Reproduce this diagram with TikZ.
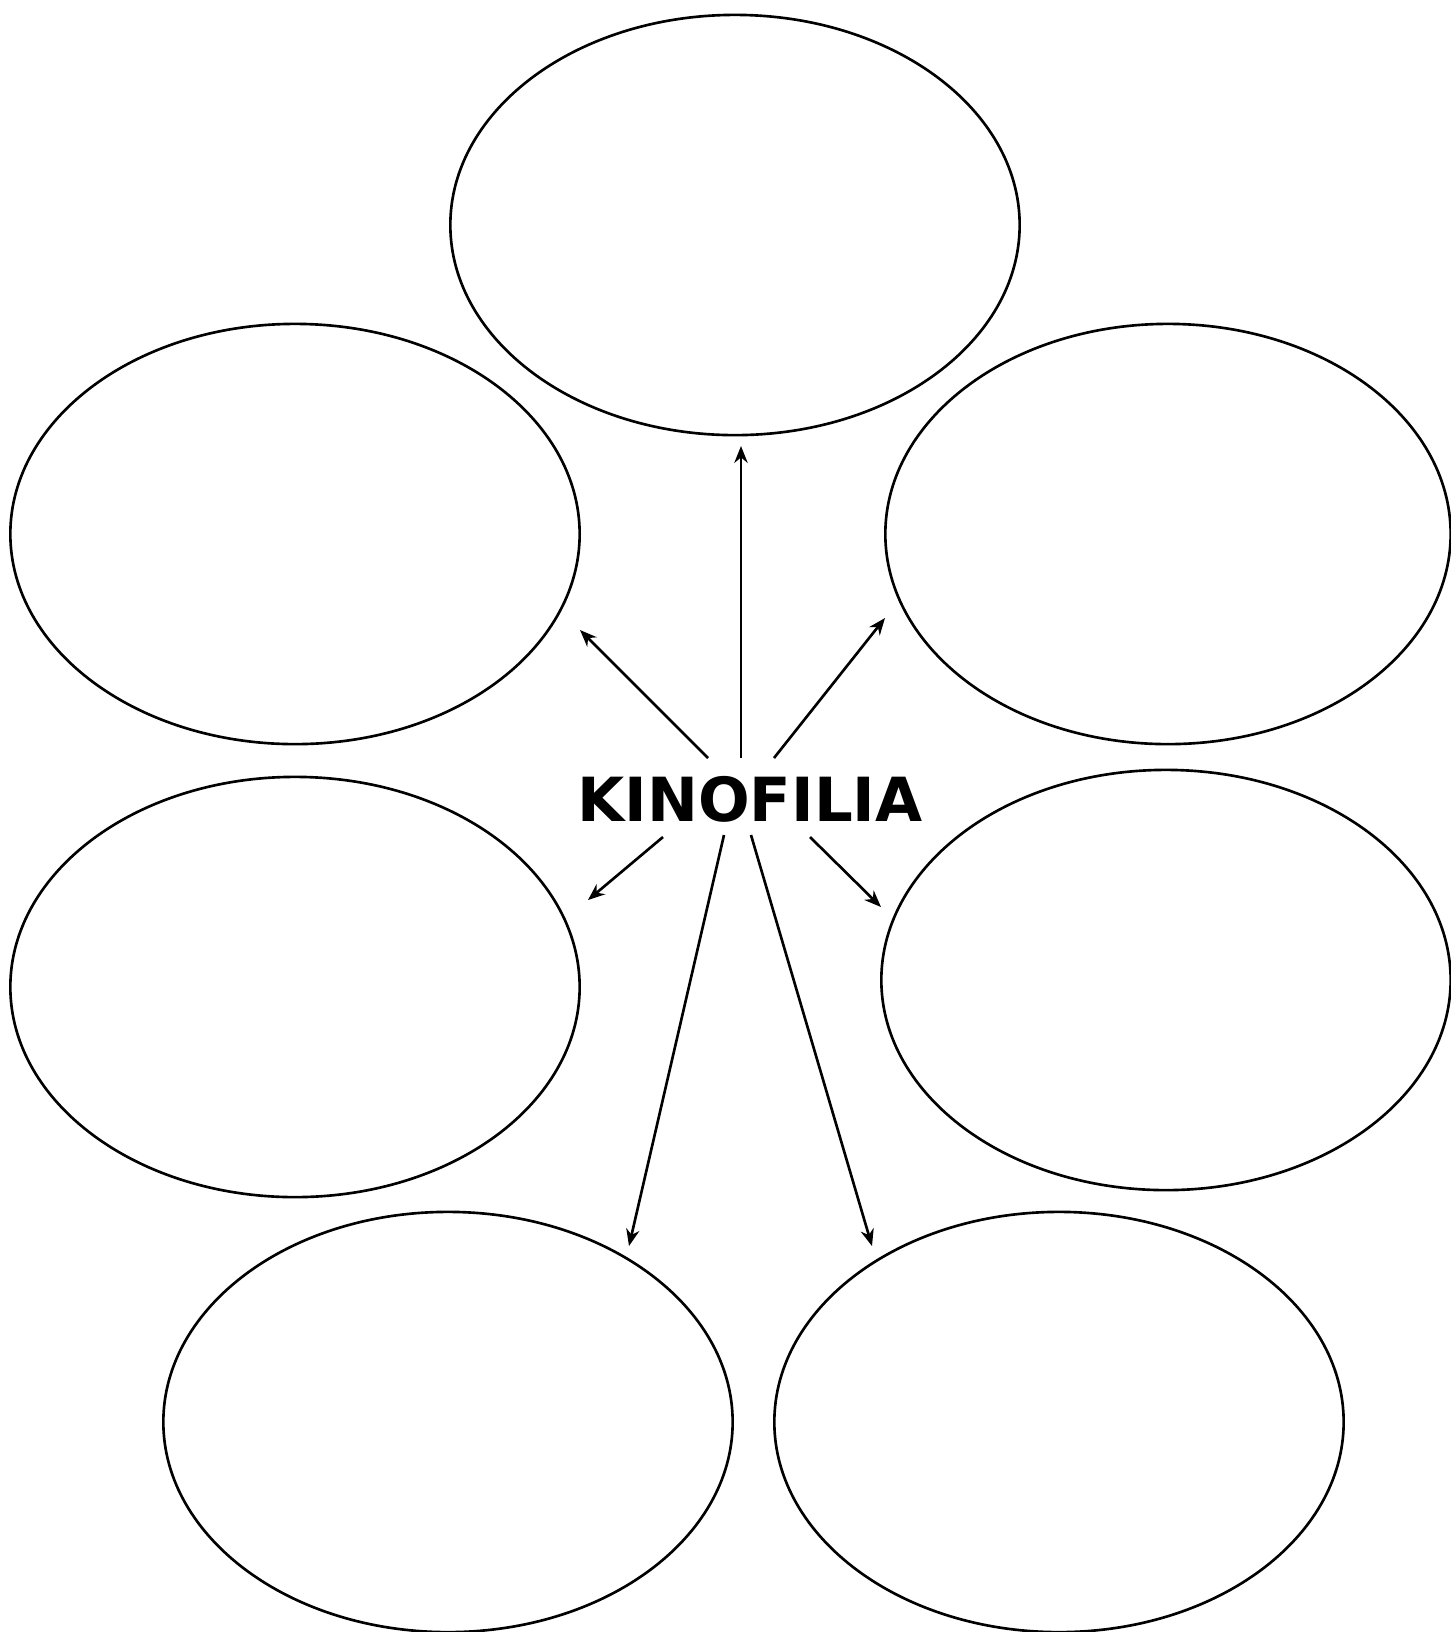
\documentclass[tikz,border=0pt]{standalone}
\usepackage{fontspec}
\setmainfont{DejaVu Sans}
\usetikzlibrary{shapes.geometric, arrows.meta}

\begin{document}
\begin{tikzpicture}[x=0.01cm, y=-0.01cm, >={Stealth[length=4.8pt, width=3.8pt]},
        bubble/.style={draw, ellipse, line width=0.75pt, inner sep=0pt, minimum width=5.69cm, minimum height=4.2cm}]
        \useasboundingbox (0,0) rectangle (1451,1632);

        \node[font=\bfseries\fontsize{17.3}{20}\selectfont] (kino) at (750,799) {KINOFILIA};

        \node[bubble] (top) at (735,225) {};
        \node[bubble] (ul) at (295,534) {};
        \node[bubble, minimum width=5.65cm] (ur) at (1168,534) {};
        \node[bubble] (ml) at (295,987) {};
        \node[bubble] (mr) at (1166,980) {};
        \node[bubble] (bl) at (448,1422) {};
        \node[bubble] (br) at (1059,1422) {};

        % arrow ends
        \coordinate (tUp) at (741,758);   \coordinate (hUp) at (741,446);
        \coordinate (tUl) at (708,758);   \coordinate (hUl) at (580,630);
        \coordinate (tUr) at (774,758);   \coordinate (hUr) at (885,618);
        \coordinate (tMl) at (663,837);   \coordinate (hMl) at (588,900);
        \coordinate (tMr) at (810,837);   \coordinate (hMr) at (881,907);
        \coordinate (tBl) at (724,835);   \coordinate (hBl) at (629,1246);
        \coordinate (tBr) at (751,835);   \coordinate (hBr) at (872,1246);

        \path[->, line width=0.75pt]
        (tUp) edge (hUp)
        (tUl) edge (hUl)
        (tUr) edge (hUr)
        (tMl) edge (hMl)
        (tMr) edge (hMr)
        (tBl) edge (hBl)
        (tBr) edge (hBr);

\end{tikzpicture}
\end{document}
